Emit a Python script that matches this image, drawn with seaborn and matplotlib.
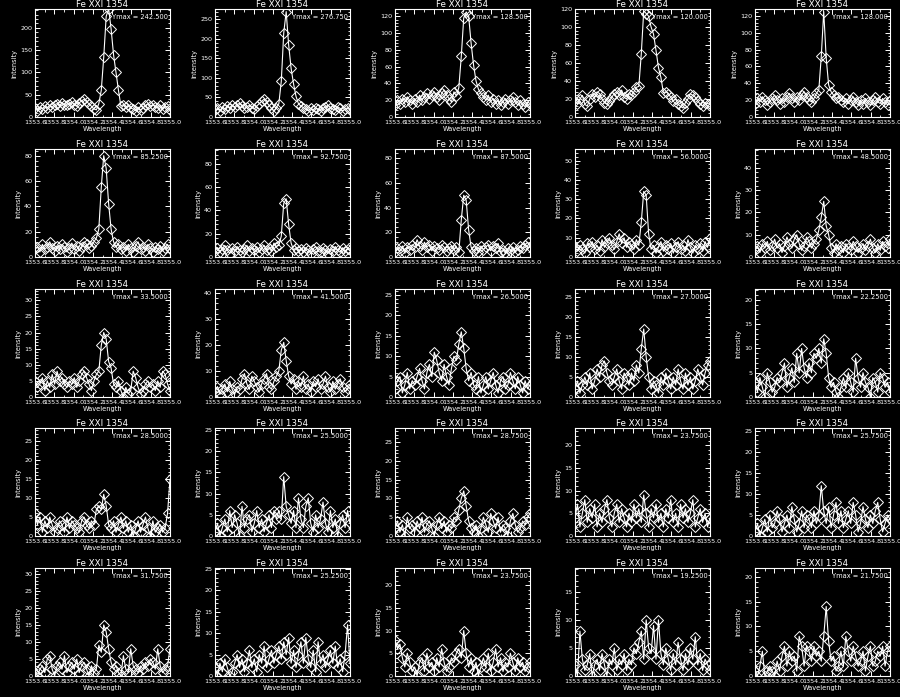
import numpy as np
import pandas as pd
import seaborn as sns
import matplotlib.pyplot as plt
from matplotlib.ticker import MaxNLocator, AutoMinorLocator, MultipleLocator

# wavelength grid (56 spectral pixels)
wave = np.linspace(1353.6, 1355.0, 56)

title = 'Fe XXI 1354'
ymax = [242.5, 276.75, 128.5, 120.0, 128.0,
        85.25, 92.75, 87.5, 56.0, 48.5,
        33.5, 41.5, 26.5, 27.0, 22.25,
        28.5, 25.5, 28.75, 23.75, 25.75,
        31.75, 25.25, 23.75, 19.25, 21.75]

# row 1
p01 = [20,14,22,18,24,20,26,22,28,30,24,32,28,26,30,34,27,24,32,36,40,34,30,24,18,16,
       30,60,134,226,243,198,140,100,60,24,
       28,22,26,20,18,14,22,16,20,26,30,24,28,22,20,26,18,22,24,16]
p02 = [18,22,15,25,20,28,24,30,26,32,35,28,22,26,30,24,20,28,34,40,46,38,30,22,16,24,
       34,91,215,270,185,125,85,53,34,28,
       24,20,16,22,18,24,20,16,22,26,30,24,20,18,26,22,16,20,24,18]
p03 = [14,20,16,22,18,24,20,16,22,18,26,20,24,28,22,26,30,24,20,28,32,26,22,18,30,25,
       35,72,118,125,120,88,62,43,33,28,
       24,20,26,18,22,16,20,14,18,22,16,20,24,18,14,20,16,12,18,16]
p04 = [18,15,20,24,14,12,20,26,22,28,26,20,16,14,18,22,26,28,24,30,22,20,26,24,28,33,
       34,70,118,115,112,100,92,74,55,44,
       27,28,26,22,18,20,14,12,10,16,20,26,24,22,18,14,12,16,15,14]
p05 = [16,22,18,24,20,14,18,22,26,20,16,22,18,24,28,22,18,24,20,26,30,24,20,18,22,28,
       32,72,125,70,38,30,26,22,24,20,
       18,22,16,20,24,18,14,20,16,22,18,14,20,24,18,16,22,18,14,20]
# row 2
p06 = [6,8,4,10,6,8,12,7,5,9,6,10,8,4,7,11,6,9,5,8,12,10,7,9,12,15,
       22,55,80,70,42,22,12,8,10,6,
       8,5,10,7,4,9,12,6,8,5,10,7,4,8,6,9,5,7,10,6]
p07 = [5,8,4,7,10,6,3,8,5,9,6,4,7,10,5,8,6,9,4,7,10,6,8,5,12,9,
       10,18,46,50,28,12,6,8,5,7,
       4,8,6,3,7,9,5,4,8,6,3,7,5,9,6,4,8,5,7,6]
p08 = [4,7,5,9,3,8,6,10,8,14,9,6,12,8,10,5,9,7,6,10,8,5,7,9,6,8,
       4,30,50,46,22,8,5,7,4,9,
       6,8,10,5,9,7,11,4,6,3,7,5,8,4,6,9,7,10,12,8]
p09 = [5,3,6,4,2,7,5,8,4,6,3,9,5,7,10,6,4,8,12,7,10,5,8,6,4,9,
       6,18,34,32,12,4,6,2,5,8,
       3,6,4,7,2,5,8,4,6,3,9,5,2,6,4,7,3,8,5,10]
p10 = [3,5,2,6,4,7,3,5,8,4,6,2,5,9,6,4,8,10,6,3,5,9,7,4,6,8,
       12,18,25,14,10,4,2,6,3,5,
       2,6,4,3,7,5,2,4,6,3,5,8,4,2,6,3,7,5,4,8]
# row 3
p11 = [5,3,4,6,2,5,3,7,4,8,5,6,4,3,5,4,6,3,5,7,8,6,4,2,5,7,
       8,16,20,18,11,9,4,3,5,2,
       0,3,1,2,8,6,3,1,2,4,5,3,4,2,5,3,8,7,4,2]
p12 = [2,4,1,3,5,2,6,3,1,4,3,7,9,5,3,8,6,4,2,5,7,9,4,3,6,8,
       10,18,21,14,8,5,7,3,6,4,
       8,3,5,2,6,4,7,3,5,8,4,2,6,3,5,7,4,2,3,5]
p13 = [2,4,5,1,3,6,2,4,3,5,7,4,2,6,8,5,11,9,6,4,8,5,3,7,10,9,
       13,16,12,7,4,6,3,2,5,1,
       3,5,2,4,6,3,1,4,5,2,3,6,4,2,5,3,1,4,2,3]
p14 = [2,4,1,3,5,3,6,2,4,7,5,8,9,6,4,3,5,7,4,2,6,5,3,6,4,8,
       6,12,17,10,5,2,4,3,1,5,
       3,6,4,2,5,3,7,4,2,6,3,5,2,4,7,5,3,6,8,9]
p15 = [3,1,4,2,0,5,3,1,2,4,3,5,7,2,4,6,3,9,5,10,6,4,7,5,9,8,
       10,7,12,9,4,2,3,1,0,2,
       4,2,5,3,1,8,4,2,5,3,2,0,4,3,1,5,4,2,3,1]
# row 4
p16 = [6,3,5,1,4,2,5,3,1,2,4,3,1,5,2,4,3,2,1,4,5,3,2,4,3,7,
       8,7,11,8,3,2,4,1,3,5,
       2,4,1,3,0,2,4,1,3,5,2,0,4,1,2,3,1,2,6,15]
p17 = [1,3,0,2,4,1,6,2,5,3,0,7,2,4,5,1,3,6,2,4,1,3,5,2,6,4,
       6,4,14,7,5,3,6,2,9,4,
       2,7,9,3,1,5,2,4,8,3,1,6,2,4,0,3,5,2,6,3]
p18 = [2,4,1,3,0,5,2,3,1,4,2,5,1,3,4,2,0,3,5,2,4,1,3,2,5,4,
       7,10,12,8,4,2,1,3,0,2,
       5,3,1,6,4,2,5,1,3,2,0,4,6,3,1,2,4,3,5,6]
p19 = [4,7,2,5,8,3,6,4,7,2,5,3,6,8,4,2,5,7,3,6,4,2,5,3,7,4,
       6,3,9,5,2,6,4,7,3,5,
       2,6,4,8,3,5,2,7,4,6,3,5,8,2,4,6,3,5,2,4]
p20 = [1,3,0,2,4,1,5,2,3,6,4,1,3,5,2,7,4,1,3,6,2,5,4,2,6,3,
       5,12,6,3,7,2,5,8,3,6,
       2,4,6,3,8,5,1,3,7,4,2,5,3,6,8,4,1,3,5,4]
# row 5
p21 = [1,0,2,3,1,5,6,2,0,3,4,2,6,1,3,4,2,5,1,3,4,2,0,3,1,2,
       9,7,15,13,8,4,2,3,1,0,
       6,2,1,8,3,2,1,3,2,4,3,5,4,2,8,3,1,2,3,8]
p22 = [2,0,3,1,4,2,0,1,3,5,2,4,1,3,6,2,4,1,5,3,7,2,4,6,3,5,
       7,4,8,5,9,3,6,2,5,8,
       3,9,4,2,6,1,8,3,5,2,4,6,3,7,2,4,1,5,12,3]
p23 = [8,6,7,4,2,5,3,1,2,0,3,4,1,5,2,3,1,4,2,6,3,1,2,4,3,5,
       6,4,10,5,2,4,1,3,0,2,
       4,2,5,1,3,6,2,4,1,3,2,5,3,1,4,2,3,1,2,3]
p24 = [2,0,8,3,1,2,4,0,2,3,1,4,2,0,3,2,5,1,3,2,4,1,3,2,5,4,
       6,8,3,10,5,4,9,3,10,4,
       2,5,3,1,4,2,6,3,1,4,2,5,3,7,2,4,1,3,2,1]
p25 = [1,0,2,5,0,1,2,1,0,3,1,4,6,2,5,3,4,1,8,6,2,6,5,3,6,4,
       5,3,8,14,7,3,4,1,2,5,
       2,8,5,3,6,4,2,3,5,1,4,6,2,3,5,4,6,2,5,6]

spectra = [p01, p02, p03, p04, p05, p06, p07, p08, p09, p10,
           p11, p12, p13, p14, p15, p16, p17, p18, p19, p20,
           p21, p22, p23, p24, p25]

sns.set_style('ticks')
plt.rcParams.update({
    'figure.facecolor': 'black', 'axes.facecolor': 'black',
    'axes.edgecolor': 'white', 'axes.labelcolor': 'white',
    'xtick.color': 'white', 'ytick.color': 'white', 'text.color': 'white',
    'xtick.direction': 'in', 'ytick.direction': 'in',
    'xtick.top': True, 'ytick.right': True,
    'axes.linewidth': 0.8,
})
plt.rcParams['font.family'] = ['DejaVu Sans']

W, H = 900, 697
fig = plt.figure(figsize=(9, 6.97), dpi=100)

lefts = [35, 215, 395, 575, 755]
tops = [9, 149, 289, 428, 568]
aw, ah = 135, 108

for i, vals in enumerate(spectra):
    r, c = divmod(i, 5)
    ax = fig.add_axes([lefts[c] / W, 1 - (tops[r] + ah) / H, aw / W, ah / H])
    df = pd.DataFrame({'wave': wave, 'inten': vals})
    sns.lineplot(data=df, x='wave', y='inten', ax=ax, color='white', lw=0.8,
                 marker='D', ms=5, mfc='none', mec='white', mew=0.7,
                 estimator=None, sort=False)
    ax.set_xlim(1353.6, 1355.0)
    ax.set_ylim(0, ymax[i])
    ax.xaxis.set_major_locator(MultipleLocator(0.2))
    ax.xaxis.set_minor_locator(AutoMinorLocator(2))
    ax.xaxis.set_major_formatter(lambda v, p: f'{v:.1f}')
    ax.yaxis.set_major_locator(MaxNLocator(nbins=7, steps=[1, 2, 5, 10]))
    ax.yaxis.set_minor_locator(AutoMinorLocator(5))
    ax.tick_params(which='major', length=3.5, width=0.7, labelsize=4.6, pad=2)
    ax.tick_params(which='minor', length=1.8, width=0.6)
    ax.set_title(title, fontsize=6.3, pad=1.5, color='white')
    ax.set_xlabel('Wavelength', fontsize=4.8, labelpad=1)
    ax.set_ylabel('Intensity', fontsize=4.8, labelpad=2)
    ax.text(0.985, 0.925, 'Ymax = ' + ('%#.6g' % ymax[i]), transform=ax.transAxes,
            ha='right', va='center', fontsize=4.8, color='white')
    for s in ax.spines.values():
        s.set_visible(True)

fig.savefig('out.png', dpi=100, facecolor='black')
